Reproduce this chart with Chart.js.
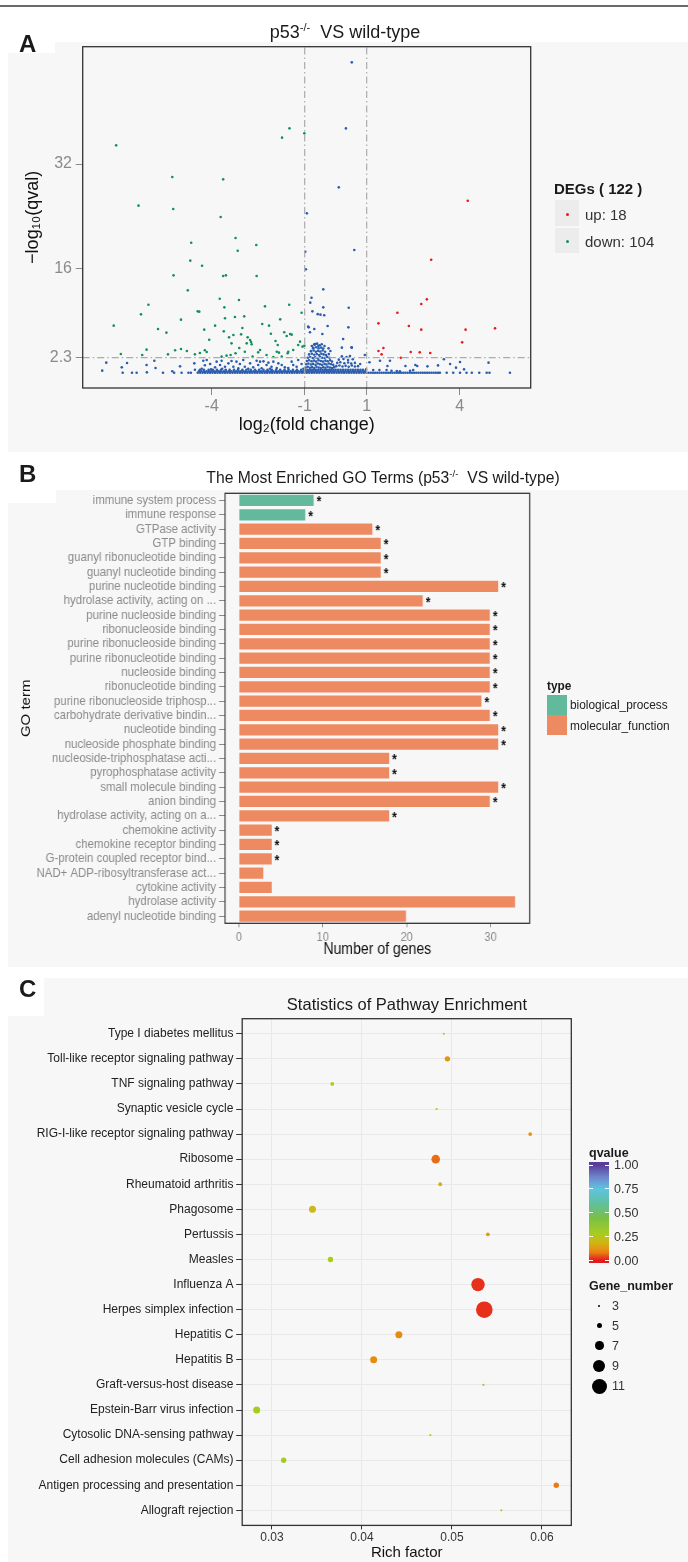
<!DOCTYPE html>
<html>
<head>
<meta charset="utf-8">
<title>p53 knockout: DEGs, GO and KEGG enrichment</title>
<script src="https://cdn.jsdelivr.net/npm/chart.js@4.4.1/dist/chart.umd.min.js"></script>
<style>
  body { margin:0; width:688px; height:1562px; position:relative; overflow:hidden; background:#fff;
         font-family:'Liberation Sans', Arial, sans-serif; color:#1a1a1a; }
  .bg { position:absolute; background:#f7f7f7; }
  .wh { position:absolute; background:#fff; }
  .t { position:absolute; white-space:nowrap; line-height:1; z-index:2; }
  .c { transform:translate(-50%,-50%); }
  .l { transform:translateY(-50%); }
  .ln { transform:translateY(-50%) scaleX(0.88); transform-origin:0 50%; }
  .letter { position:absolute; font-weight:bold; font-size:24px; line-height:1; z-index:2; }
  canvas { position:absolute; left:0; z-index:1; }
  #goBars { transform:scaleX(0.88); transform-origin:0 0; }
  sup { font-size:62%; vertical-align:0.6em; line-height:0; }
  .key { position:absolute; z-index:2; }
</style>
</head>
<body>
<div class="wh" style="left:0;top:5px;width:688px;height:2px;background:#6a6a6a"></div>
<div class="bg" style="left:8px;top:42px;width:680px;height:410px"></div>
<div class="bg" style="left:8px;top:490px;width:680px;height:477px"></div>
<div class="bg" style="left:8px;top:978px;width:680px;height:584px"></div>
<div class="wh" style="left:0;top:20px;width:55px;height:33px;z-index:1"></div>
<div class="wh" style="left:0;top:452px;width:56px;height:51px;z-index:1"></div>
<div class="wh" style="left:0;top:967px;width:44px;height:49px;z-index:1"></div>
<div class="letter" style="left:19px;top:32px">A</div>
<div class="letter" style="left:19px;top:462px">B</div>
<div class="letter" style="left:19px;top:977px">C</div>

<canvas id="volcano" width="688" height="440" style="top:0"></canvas>
<canvas id="goBars" width="782" height="520" style="top:440px"></canvas>
<canvas id="kegg" width="688" height="602" style="top:960px"></canvas>

<div class="t c" style="left:345px;top:32px;font-size:18px">p53<sup>-/-</sup>&nbsp; VS wild-type</div>
<div class="t c" style="left:383px;top:478px;font-size:15.7px">The Most Enriched GO Terms (p53<sup>-/-</sup>&nbsp; VS wild-type)</div>
<div class="t c" style="left:407px;top:1004px;font-size:16.5px">Statistics of Pathway Enrichment</div>

<!-- legend A -->
<div id="degTitle" class="t l" style="left:554px;top:188px;font-size:15px;font-weight:bold"></div>
<div class="key" style="left:555px;top:200px;width:24px;height:26px;background:#ececec"></div>
<div class="key" style="left:555px;top:228px;width:24px;height:25px;background:#ececec"></div>
<div class="key" style="left:565.5px;top:212.5px;width:3px;height:3px;border-radius:50%;background:#e41a1c"></div>
<div class="key" style="left:565.5px;top:239.5px;width:3px;height:3px;border-radius:50%;background:#14905e"></div>
<div id="degUp" class="t l" style="left:585px;top:214px;font-size:15px;color:#333"></div>
<div id="degDown" class="t l" style="left:585px;top:241px;font-size:15px;color:#333"></div>

<!-- legend B -->
<div class="t ln" style="left:547px;top:686px;font-size:13.5px;font-weight:bold">type</div>
<div class="key" style="left:547px;top:695px;width:20px;height:20px;background:#63b99c"></div>
<div class="key" style="left:547px;top:715px;width:20px;height:20px;background:#ee8a62"></div>
<div class="t ln" style="left:570px;top:705px;font-size:13.5px;color:#222">biological_process</div>
<div class="t ln" style="left:570px;top:726px;font-size:13.5px;color:#222">molecular_function</div>

<!-- legend C -->
<div class="t l" style="left:589px;top:1153px;font-size:12.5px;font-weight:bold">qvalue</div>
<div id="qBar" class="key" style="left:589px;top:1162px;width:20px;height:101px"></div>
<div id="qLegend"></div>
<div class="t l" style="left:589px;top:1286px;font-size:12.5px;font-weight:bold">Gene_number</div>
<div id="sizeLegend"></div>

<script>
// ---------- A: volcano (log2 fold change vs -log10 q) ----------
const degUp = 18;
const degDown = 104;
const volcanoXTicks = [-4, -1, 1, 4];
const volcanoYTicks = [2.3, 16, 32];
const foldCut = [-1, 1];
const qCut = 2.3;

const upPts = [
  [4.26,26.38],[3.08,17.33],[2.94,11.25],[2.76,10.53],[1.99,9.2],[1.38,7.57],[2.36,7.16],[2.76,6.6],
  [4.19,6.6],[5.14,6.8],[4.08,4.65],[1.38,3.32],[1.54,3.78],[1.48,2.81],[2.42,3.17],[2.71,3.12],
  [3.05,3.02],[2.10,2.3]
];

const downPts = [
  [-7.08,34.87],[-5.27,30.01],[-3.63,29.65],[-6.36,25.62],[-5.24,25.10],[-3.71,23.88],[-1.49,37.48],
  [-1.73,36.05],[-1.01,36.71],[-4.66,19.94],[-3.23,20.66],[-2.56,19.58],[-3.16,18.71],[-4.69,17.18],
  [-4.31,16.41],[-5.23,14.93],[-3.63,14.83],[-3.54,14.93],[-2.55,14.83],[-4.77,12.63],
  [-7.16,7.21],[-6.93,2.86],[-6.28,8.95],[-6.24,2.71],[-6.10,3.53],[-6.04,10.43],[-5.73,6.70],
  [-5.46,6.14],[-5.41,2.81],[-5.18,3.43],[-4.99,3.63],[-4.99,8.13],[-4.80,3.32],[-4.54,2.81],
  [-4.45,9.41],[-4.40,9.36],[-4.38,3.02],[-4.24,6.60],[-4.22,3.43],[-4.16,3.17],[-4.08,5.06],
  [-3.89,7.21],[-3.74,11.35],[-3.68,2.46],[-3.61,6.34],[-3.59,10.02],[-3.57,8.34],[-3.52,2.61],
  [-3.44,5.42],[-3.39,2.71],[-3.36,4.50],[-3.30,5.78],[-3.25,8.54],[-3.23,2.97],[-3.12,11.15],
  [-3.11,3.78],[-3.05,5.88],[-3.01,6.85],[-2.95,8.64],[-2.93,3.22],[-2.87,4.50],[-2.84,5.42],
  [-2.76,5.01],[-2.73,4.70],[-2.71,4.35],[-2.68,2.46],[-2.50,3.12],[-2.44,3.48],[-2.37,7.47],
  [-2.28,10.17],[-2.23,2.71],[-2.15,7.21],[-2.09,5.98],[-2.01,2.40],[-1.94,4.86],[-1.90,3.22],
  [-1.87,4.24],[-1.83,3.07],[-1.79,8.18],[-1.74,2.46],[-1.66,6.19],[-1.58,5.62],[-1.55,2.97],
  [-1.53,3.22],[-1.50,10.43],[-1.47,5.93],[-1.42,5.83],[-1.37,3.48],[-1.21,4.24],[-1.15,4.76],
  [-1.10,9.20],[-1.07,3.99],[-1.01,4.14]
];

// not significant genes (blue), scattered ones
const nsPts = [
  [0.52,47.6],[0.33,37.47],[0.10,28.43],[-0.93,24.44],[0.60,18.81],[-0.98,18.56],[-0.96,15.85],
  [-0.40,12.78],[-0.78,11.50],[-0.82,10.74],[0.42,9.97],[-0.40,10.02],[-0.58,8.98],[-0.49,8.9],
  [-0.37,8.8],[-0.75,9.41],[-0.89,7.06],[0.41,6.95],[-0.26,7.16],[-0.87,6.95],[-0.69,6.7],
  [-0.83,6.19],[-0.43,5.93],[0.24,5.16],[0.52,3.84],[-0.73,3.73],[-0.66,4.40],[-0.69,4.35],
  [-0.45,4.35],[-0.36,4.09],[-0.56,4.09],[-0.77,4.09],[-0.23,3.73],[-0.17,3.32],[0.51,3.89],
  [0.20,3.84],[0.46,2.56],[0.94,2.71],
  // dense cluster between the fold cut lines
  [-0.68,4.3],[-0.6,4.45],[-0.52,4.2],[-0.72,3.8],[-0.63,3.9],[-0.55,3.75],[-0.47,3.85],[-0.4,3.7],
  [-0.8,3.3],[-0.71,3.4],[-0.64,3.2],[-0.57,3.35],[-0.5,3.25],[-0.42,3.4],[-0.34,3.2],
  [-0.86,2.8],[-0.77,2.9],[-0.69,2.75],[-0.61,2.85],[-0.53,2.7],[-0.46,2.9],[-0.39,2.8],[-0.31,2.7],[-0.22,2.85],
  [-0.9,2.3],[-0.82,2.4],[-0.74,2.25],[-0.66,2.35],[-0.58,2.2],[-0.51,2.4],[-0.44,2.3],[-0.36,2.25],[-0.28,2.4],[-0.2,2.3],
  [-0.93,1.8],[-0.86,1.9],[-0.78,1.75],[-0.7,1.85],[-0.63,1.7],[-0.55,1.9],[-0.48,1.8],[-0.41,1.7],
  [-0.33,1.85],[-0.26,1.75],[-0.18,1.9],[-0.12,1.7],
  [-0.95,1.3],[-0.88,1.4],[-0.8,1.25],[-0.73,1.35],[-0.65,1.2],[-0.58,1.4],[-0.51,1.3],[-0.44,1.2],
  [-0.36,1.35],[-0.3,1.25],[-0.22,1.4],[-0.15,1.3],[-0.08,1.2],
  [-0.97,0.8],[-0.9,0.9],[-0.83,0.75],[-0.76,0.85],[-0.69,0.7],[-0.62,0.9],[-0.55,0.8],[-0.48,0.7],
  [-0.4,0.85],[-0.33,0.75],[-0.26,0.9],[-0.19,0.8],[-0.12,0.7],[-0.05,0.85],
  [0.2,2.5],[0.35,2.4],[0.1,2.0],[0.25,2.1],[0.4,1.95],[0.55,2.05],[0.05,1.5],[0.15,1.6],[0.28,1.45],
  [0.4,1.55],[0.5,1.4],[0.62,1.5],[0.02,1.0],[0.12,1.1],[0.22,0.95],[0.32,1.05],[0.42,0.9],[0.52,1.1],
  [0.62,0.95],[0.72,1.0],
  // left side, below the q cut
  [-7.53,0.31],[-7.40,1.54],[-6.90,0.82],[-6.87,0],[-6.73,1.48],[-6.57,0],[-6.42,0],[-6.10,1.18],
  [-6.09,0.05],[-5.85,1.84],[-5.81,0.72],[-5.57,0],[-5.27,0.21],[-5.21,0],[-5.02,0.97],[-4.97,0],
  [-4.75,0],[-4.67,0],[-4.56,1.43],[-4.54,0.46],[-4.32,0.61],[-4.27,1.84],[-4.22,1.13],[-4.16,1.94],
  [-4.05,1.33],[-4.02,0.51],[-3.89,0.82],[-3.84,1.69],[-3.73,1.18],[-3.68,1.84],[-3.66,0.61],
  [-3.57,0.92],[-3.46,1.43],[-3.36,1.79],[-3.30,0.92],[-3.20,1.69],[-3.14,0.66],[-3.09,1.33],
  [-2.98,1.94],[-2.93,0.92],[-2.82,0.61],[-2.76,1.43],[-2.66,0.82],[-2.55,1.84],[-2.50,1.18],
  [-2.44,1.69],[-2.39,0.67],[-2.33,1.74],[-2.23,1.18],[-2.17,1.54],[-2.12,0.61],[-2.07,0.92],
  [-2.01,1.69],[-1.90,0.71],[-1.85,1.43],[-1.74,1.18],[-1.64,0.82],[-1.53,0.71],[-1.42,1.69],
  [-1.37,1.18],[-1.26,0.92],[-1.21,1.94],[-1.10,1.33],[-1.04,0.61],
  // right side, below the q cut
  [0.79,1.33],[1.09,1.59],[1.43,1.84],[1.75,1.84],[1.67,1.02],[1.97,0.26],[2.25,1.02],[2.57,1.18],
  [2.63,1.02],[2.96,0.97],[3.30,1.12],[3.49,2.05],[3.69,1.33],[3.88,0.77],[4.01,1.64],[4.14,0.51],
  [4.93,1.54],[4.87,0],[4.96,0],[5.62,0],[4.39,0],[4.63,0],[3.36,0],[3.58,0],[3.79,0],[4.01,0],
  [4.22,0],[2.07,0.2],[2.4,0.3],[2.5,0.4],[1.64,0.4],[1.80,0.3],[1.41,0.4],[1.21,0.4],[0.98,0.5]
];

// the thick band of genes with q close to 1: one list of fold changes per row
const bandY = [0, 0.22, 0.45];
const bandX = [
  [-4.45,-4.37,-4.29,-4.21,-4.13,-4.05,-3.97,-3.89,-3.81,-3.73,-3.65,-3.57,-3.49,-3.41,-3.33,-3.25,
   -3.17,-3.09,-3.01,-2.93,-2.85,-2.77,-2.69,-2.61,-2.53,-2.45,-2.37,-2.29,-2.21,-2.13,-2.05,-1.97,
   -1.89,-1.81,-1.73,-1.65,-1.57,-1.49,-1.41,-1.33,-1.25,-1.17,-1.09,-1.01,-0.93,-0.85,-0.77,-0.69,
   -0.61,-0.53,-0.45,-0.37,-0.29,-0.21,-0.13,-0.05,0.03,0.11,0.19,0.27,0.35,0.43,0.51,0.59,0.67,0.75,
   0.83,0.91,0.99,1.06,1.13,1.2,1.27,1.34,1.41,1.48,1.55,1.62,1.69,1.76,1.83,1.9,1.97,2.04,2.11,2.18,
   2.25,2.32,2.39,2.46,2.53,2.6,2.67,2.74,2.81,2.88,2.95,3.02,3.09,3.16,3.23,3.3],
  [-4.41,-4.33,-4.25,-4.17,-4.09,-4.01,-3.93,-3.85,-3.77,-3.69,-3.61,-3.53,-3.45,-3.37,-3.29,-3.21,
   -3.13,-3.05,-2.97,-2.89,-2.81,-2.73,-2.65,-2.57,-2.49,-2.41,-2.33,-2.25,-2.17,-2.09,-2.01,-1.93,
   -1.85,-1.77,-1.69,-1.61,-1.53,-1.45,-1.37,-1.29,-1.21,-1.13,-1.05,-0.97,-0.89,-0.81,-0.73,-0.65,
   -0.57,-0.49,-0.41,-0.33,-0.25,-0.17,-0.09,-0.01,0.07,0.15,0.23,0.31,0.39,0.47,0.55,0.63,0.71,0.79,
   0.87,0.95],
  [-4.38,-4.25,-4.1,-3.96,-3.83,-3.7,-3.55,-3.42,-3.28,-3.15,-3.01,-2.88,-2.74,-2.6,-2.47,-2.33,-2.2,
   -2.06,-1.92,-1.79,-1.65,-1.52,-1.38,-1.25,-1.11,-0.98,-0.91,-0.84,-0.77,-0.7,-0.63,-0.56,-0.49,
   -0.42,-0.35,-0.28,-0.21,-0.14,-0.07,0.0,0.08,0.16,0.24,0.32,0.4,0.48,0.56,0.64,0.72,0.8,0.88]
];

// ---------- B: GO enrichment ----------
const goTerms = [
  'immune system process','immune response','GTPase activity','GTP binding',
  'guanyl ribonucleotide binding','guanyl nucleotide binding','purine nucleotide binding',
  'hydrolase activity, acting on ...','purine nucleoside binding','ribonucleoside binding',
  'purine ribonucleoside binding','purine ribonucleotide binding','nucleoside binding',
  'ribonucleotide binding','purine ribonucleoside triphosp...','carbohydrate derivative bindin...',
  'nucleotide binding','nucleoside phosphate binding','nucleoside-triphosphatase acti...',
  'pyrophosphatase activity','small molecule binding','anion binding',
  'hydrolase activity, acting on a...','chemokine activity','chemokine receptor binding',
  'G-protein coupled receptor bind...','NAD+ ADP-ribosyltransferase act...','cytokine activity',
  'hydrolase activity','adenyl nucleotide binding'
];
const goGenes = [9,8,16,17,17,17,31,22,30,30,30,30,30,30,29,30,31,31,18,18,31,30,18,4,4,4,3,4,33,20];
const goType = ['BP','BP','MF','MF','MF','MF','MF','MF','MF','MF','MF','MF','MF','MF','MF','MF','MF',
                'MF','MF','MF','MF','MF','MF','MF','MF','MF','MF','MF','MF','MF'];
const goSignificant = [1,1,1,1,1,1,1,1,1,1,1,1,1,1,1,1,1,1,1,1,1,1,1,1,1,1,0,0,0,0];
const goXTicks = [0, 10, 20, 30];

// ---------- C: KEGG pathway enrichment ----------
const pathways = [
  'Type I diabetes mellitus','Toll-like receptor signaling pathway','TNF signaling pathway',
  'Synaptic vesicle cycle','RIG-I-like receptor signaling pathway','Ribosome','Rheumatoid arthritis',
  'Phagosome','Pertussis','Measles','Influenza A','Herpes simplex infection','Hepatitis C',
  'Hepatitis B','Graft-versus-host disease','Epstein-Barr virus infection',
  'Cytosolic DNA-sensing pathway','Cell adhesion molecules (CAMs)',
  'Antigen processing and presentation','Allograft rejection'
];
const richFactor = [0.0491,0.0495,0.0367,0.0483,0.0587,0.0482,0.0487,0.0345,0.0540,0.0365,
                    0.0529,0.0536,0.0441,0.0413,0.0535,0.0283,0.0476,0.0313,0.0616,0.0555];
const geneNumber = [3,5,4,3,4,7,4,6,4,5,10,12,6,6,3,6,3,5,5,3];
const qValue = [0.28,0.12,0.28,0.28,0.12,0.07,0.18,0.2,0.14,0.28,0.02,0.02,0.11,0.11,0.28,0.29,
                0.27,0.29,0.08,0.28];
const richTicks = [0.03, 0.04, 0.05, 0.06];
const qTicks = [1, 0.75, 0.5, 0.25, 0];
const sizeKeys = [3, 5, 7, 9, 11];

// ---------- helpers ----------
Chart.defaults.font.family = "'Liberation Sans', Arial, sans-serif";
const typeColor = { BP: '#63b99c', MF: '#ee8a62' };
const qStops = [[0,'#e31a1c'],[0.04,'#e8461a'],[0.08,'#ea7a14'],[0.13,'#e29a12'],[0.2,'#cdb815'],
                [0.28,'#a8cc20'],[0.45,'#78c048'],[0.6,'#60c0a0'],[0.75,'#5ec4e0'],[0.87,'#6e88cc'],
                [1,'#5a3c9c']];

function hexRgb(h) {
  return [1, 3, 5].map(i => parseInt(h.slice(i, i + 2), 16));
}
function qColor(q) {
  for (let i = 1; i < qStops.length; i++) {
    if (q <= qStops[i][0]) {
      const [q0, c0] = qStops[i - 1], [q1, c1] = qStops[i];
      const f = (q - q0) / (q1 - q0);
      const a = hexRgb(c0), b = hexRgb(c1);
      return 'rgb(' + a.map((v, k) => Math.round(v + (b[k] - v) * f)).join(',') + ')';
    }
  }
  return qStops[qStops.length - 1][1];
}
function geneRadius(n) {
  return 0.8 * (n - 3) + 1.1;
}
const toXY = pts => pts.map(([x, y]) => ({ x, y }));
const bandPts = bandX.flatMap((row, r) => row.map(x => ({ x, y: bandY[r] })));

const boxPlugin = {
  id: 'box',
  afterDatasetsDraw(chart, args, opts) {
    const { ctx, chartArea: a } = chart;
    ctx.save();
    ctx.strokeStyle = opts.color;
    ctx.lineWidth = opts.width;
    ctx.strokeRect(a.left, a.top, a.right - a.left, a.bottom - a.top);
    ctx.restore();
  }
};

const starPlugin = {
  id: 'stars',
  afterDatasetsDraw(chart) {
    const ctx = chart.ctx;
    const bars = chart.getDatasetMeta(0).data;
    ctx.save();
    ctx.font = "bold 14px 'Liberation Sans', Arial, sans-serif";
    ctx.fillStyle = '#111';
    ctx.textAlign = 'left';
    ctx.textBaseline = 'middle';
    bars.forEach((bar, i) => {
      if (goSignificant[i]) ctx.fillText('*', bar.x + 2.5, bar.y + 2);
    });
    ctx.restore();
  }
};

const fixTicks = list => scale => { scale.ticks = list.map(v => ({ value: v })); };

// ---------- chart A ----------
const yMinA = -2.35, yMaxA = 50;
const cutStyle = { borderColor: '#ababab', borderWidth: 1.2, borderDash: [7, 3, 1.5, 3],
                   pointRadius: 0, showLine: true, fill: false };
const dotStyle = { pointRadius: 1.3, borderWidth: 0 };

new Chart(document.getElementById('volcano'), {
  type: 'scatter',
  data: {
    datasets: [
      { ...cutStyle, data: [{ x: foldCut[0], y: yMinA }, { x: foldCut[0], y: yMaxA }] },
      { ...cutStyle, data: [{ x: foldCut[1], y: yMinA }, { x: foldCut[1], y: yMaxA }] },
      { ...cutStyle, data: [{ x: -8.16, y: qCut }, { x: 6.29, y: qCut }] },
      { ...dotStyle, data: toXY(upPts), backgroundColor: '#e41a1c' },
      { ...dotStyle, data: toXY(downPts), backgroundColor: '#14905e' },
      { ...dotStyle, data: toXY(nsPts), backgroundColor: '#2a5db0' },
      { ...dotStyle, data: bandPts, backgroundColor: '#2a5db0' }
    ]
  },
  options: {
    responsive: false,
    animation: false,
    events: [],
    layout: { padding: { top: 46.7, right: 157.3, left: 0, bottom: 0 } },
    plugins: { legend: { display: false }, tooltip: { enabled: false }, box: { color: '#333', width: 1.3 } },
    scales: {
      x: {
        type: 'linear', min: -8.16, max: 6.29,
        afterBuildTicks: fixTicks(volcanoXTicks),
        afterFit: s => { s.height = 52; },
        grid: { drawOnChartArea: false, tickLength: 7, tickColor: '#8a8a8a' },
        border: { display: false },
        ticks: { color: '#8a8a8a', font: { size: 16 }, padding: 2.4, autoSkip: false, maxRotation: 0,
                 callback: v => String(v) },
        title: { display: true, text: 'log₂(fold change)', color: '#111',
                 font: { size: 18, lineHeight: 1.2 }, padding: { top: 0, bottom: 4.2 } }
      },
      y: {
        type: 'linear', min: yMinA, max: yMaxA,
        afterBuildTicks: fixTicks(volcanoYTicks),
        afterFit: s => { s.width = 82.7; },
        grid: { drawOnChartArea: false, tickLength: 7, tickColor: '#8a8a8a' },
        border: { display: false },
        ticks: { color: '#8a8a8a', font: { size: 16 }, padding: 3.7, autoSkip: false,
                 callback: v => String(v) },
        title: { display: true, text: '−log₁₀(qval)', color: '#111',
                 font: { size: 18, lineHeight: 1.2 }, padding: { top: 22.2, bottom: 0 } }
      }
    }
  },
  plugins: [boxPlugin]
});

document.getElementById('degTitle').textContent = 'DEGs ( ' + (degUp + degDown) + ' )';
document.getElementById('degUp').textContent = 'up: ' + degUp;
document.getElementById('degDown').textContent = 'down: ' + degDown;

// ---------- chart B (canvas is drawn 1/0.88 wide and squeezed back by CSS) ----------
new Chart(document.getElementById('goBars'), {
  type: 'bar',
  data: {
    labels: goTerms,
    datasets: [{
      data: goGenes,
      backgroundColor: goType.map(t => typeColor[t]),
      borderColor: 'rgba(255,255,255,0.55)',
      borderWidth: 0.8,
      barPercentage: 0.9,
      categoryPercentage: 1
    }]
  },
  options: {
    indexAxis: 'y',
    responsive: false,
    animation: false,
    events: [],
    layout: { padding: { top: 53.3, right: 180.2, left: 0, bottom: 0 } },
    plugins: { legend: { display: false }, tooltip: { enabled: false }, box: { color: '#333', width: 1.3 } },
    scales: {
      x: {
        type: 'linear', min: -1.65, max: 34.65,
        afterBuildTicks: fixTicks(goXTicks),
        afterFit: s => { s.height = 36.7; },
        grid: { drawOnChartArea: false, tickLength: 4, tickColor: '#8a8a8a' },
        border: { display: false },
        ticks: { color: '#8a8a8a', font: { size: 12.5 }, padding: 2.5, autoSkip: false, maxRotation: 0 },
        title: { display: true, text: 'Number of genes', color: '#111',
                 font: { size: 16, lineHeight: 1.2 }, padding: { top: 0, bottom: 0.5 } }
      },
      y: {
        type: 'category',
        afterFit: s => { s.width = 255.7; },
        grid: { offset: false, drawOnChartArea: false, tickLength: 6.8, tickColor: '#8a8a8a' },
        border: { display: false },
        ticks: { color: '#8a8a8a', font: { size: 13 }, padding: 3.4, autoSkip: false },
        title: { display: true, text: 'GO term', color: '#111',
                 font: { size: 15, lineHeight: 1.2 }, padding: { top: 20.5, bottom: 0 } }
      }
    }
  },
  plugins: [boxPlugin, starPlugin]
});

// ---------- chart C ----------
new Chart(document.getElementById('kegg'), {
  type: 'scatter',
  data: {
    datasets: [{
      data: pathways.map((p, i) => ({ x: richFactor[i], y: i + 1 })),
      pointRadius: c => geneRadius(geneNumber[c.dataIndex]),
      backgroundColor: c => qColor(qValue[c.dataIndex]),
      borderWidth: 0
    }]
  },
  options: {
    responsive: false,
    animation: false,
    events: [],
    layout: { padding: { top: 58.7, right: 116.7, left: 0, bottom: 0 } },
    plugins: { legend: { display: false }, tooltip: { enabled: false }, box: { color: '#333', width: 1.3 } },
    scales: {
      x: {
        type: 'linear', min: 0.02669, max: 0.06327,
        afterBuildTicks: fixTicks(richTicks),
        afterFit: s => { s.height = 36.6; },
        grid: { color: '#e9e9e9', tickColor: '#333', tickLength: 4 },
        border: { display: false },
        ticks: { color: '#333', font: { size: 12 }, padding: 1.5, autoSkip: false, maxRotation: 0,
                 callback: v => v.toFixed(2) },
        title: { display: true, text: 'Rich factor', color: '#111',
                 font: { size: 15, lineHeight: 1.2 }, padding: { top: 0, bottom: 0 } }
      },
      y: {
        type: 'linear', min: 0.4, max: 20.6, reverse: true,
        afterBuildTicks: fixTicks(pathways.map((p, i) => i + 1)),
        afterFit: s => { s.width = 242.2; },
        grid: { color: '#e9e9e9', tickColor: '#333', tickLength: 6 },
        border: { display: false },
        ticks: { color: '#222', font: { size: 12 }, padding: 2.8, autoSkip: false,
                 callback: v => pathways[v - 1] }
      }
    }
  },
  plugins: [boxPlugin]
});

// ---------- legend C (colour bar and size keys) ----------
const barTop = 1162, barH = 101, q1y = 1165, q0y = 1260.6;
document.getElementById('qBar').style.background =
  'linear-gradient(to top,' + qStops.map(([q, c]) =>
    c + ' ' + ((barTop + barH - (q0y - q * (q0y - q1y))) / barH * 100).toFixed(1) + '%').join(',') + ')';
const qLegend = document.getElementById('qLegend');
qTicks.forEach(v => {
  const y = q0y - v * (q0y - q1y);
  qLegend.insertAdjacentHTML('beforeend',
    `<div class="key" style="left:589px;top:${y - 0.5}px;width:4px;height:1px;background:#fff"></div>` +
    `<div class="key" style="left:605px;top:${y - 0.5}px;width:4px;height:1px;background:#fff"></div>` +
    `<div class="t l" style="left:614px;top:${y}px;font-size:12.5px;color:#333">${v.toFixed(2)}</div>`);
});
const sizeLegend = document.getElementById('sizeLegend');
const sizeY = [1305.7, 1325.7, 1345.7, 1366, 1386];
sizeKeys.forEach((n, i) => {
  const r = geneRadius(n);
  sizeLegend.insertAdjacentHTML('beforeend',
    `<div class="key" style="left:${599.3 - r}px;top:${sizeY[i] - r}px;width:${2 * r}px;height:${2 * r}px;border-radius:50%;background:#000"></div>` +
    `<div class="t l" style="left:612px;top:${sizeY[i]}px;font-size:12.5px;color:#333">${n}</div>`);
});
</script>
</body>
</html>
